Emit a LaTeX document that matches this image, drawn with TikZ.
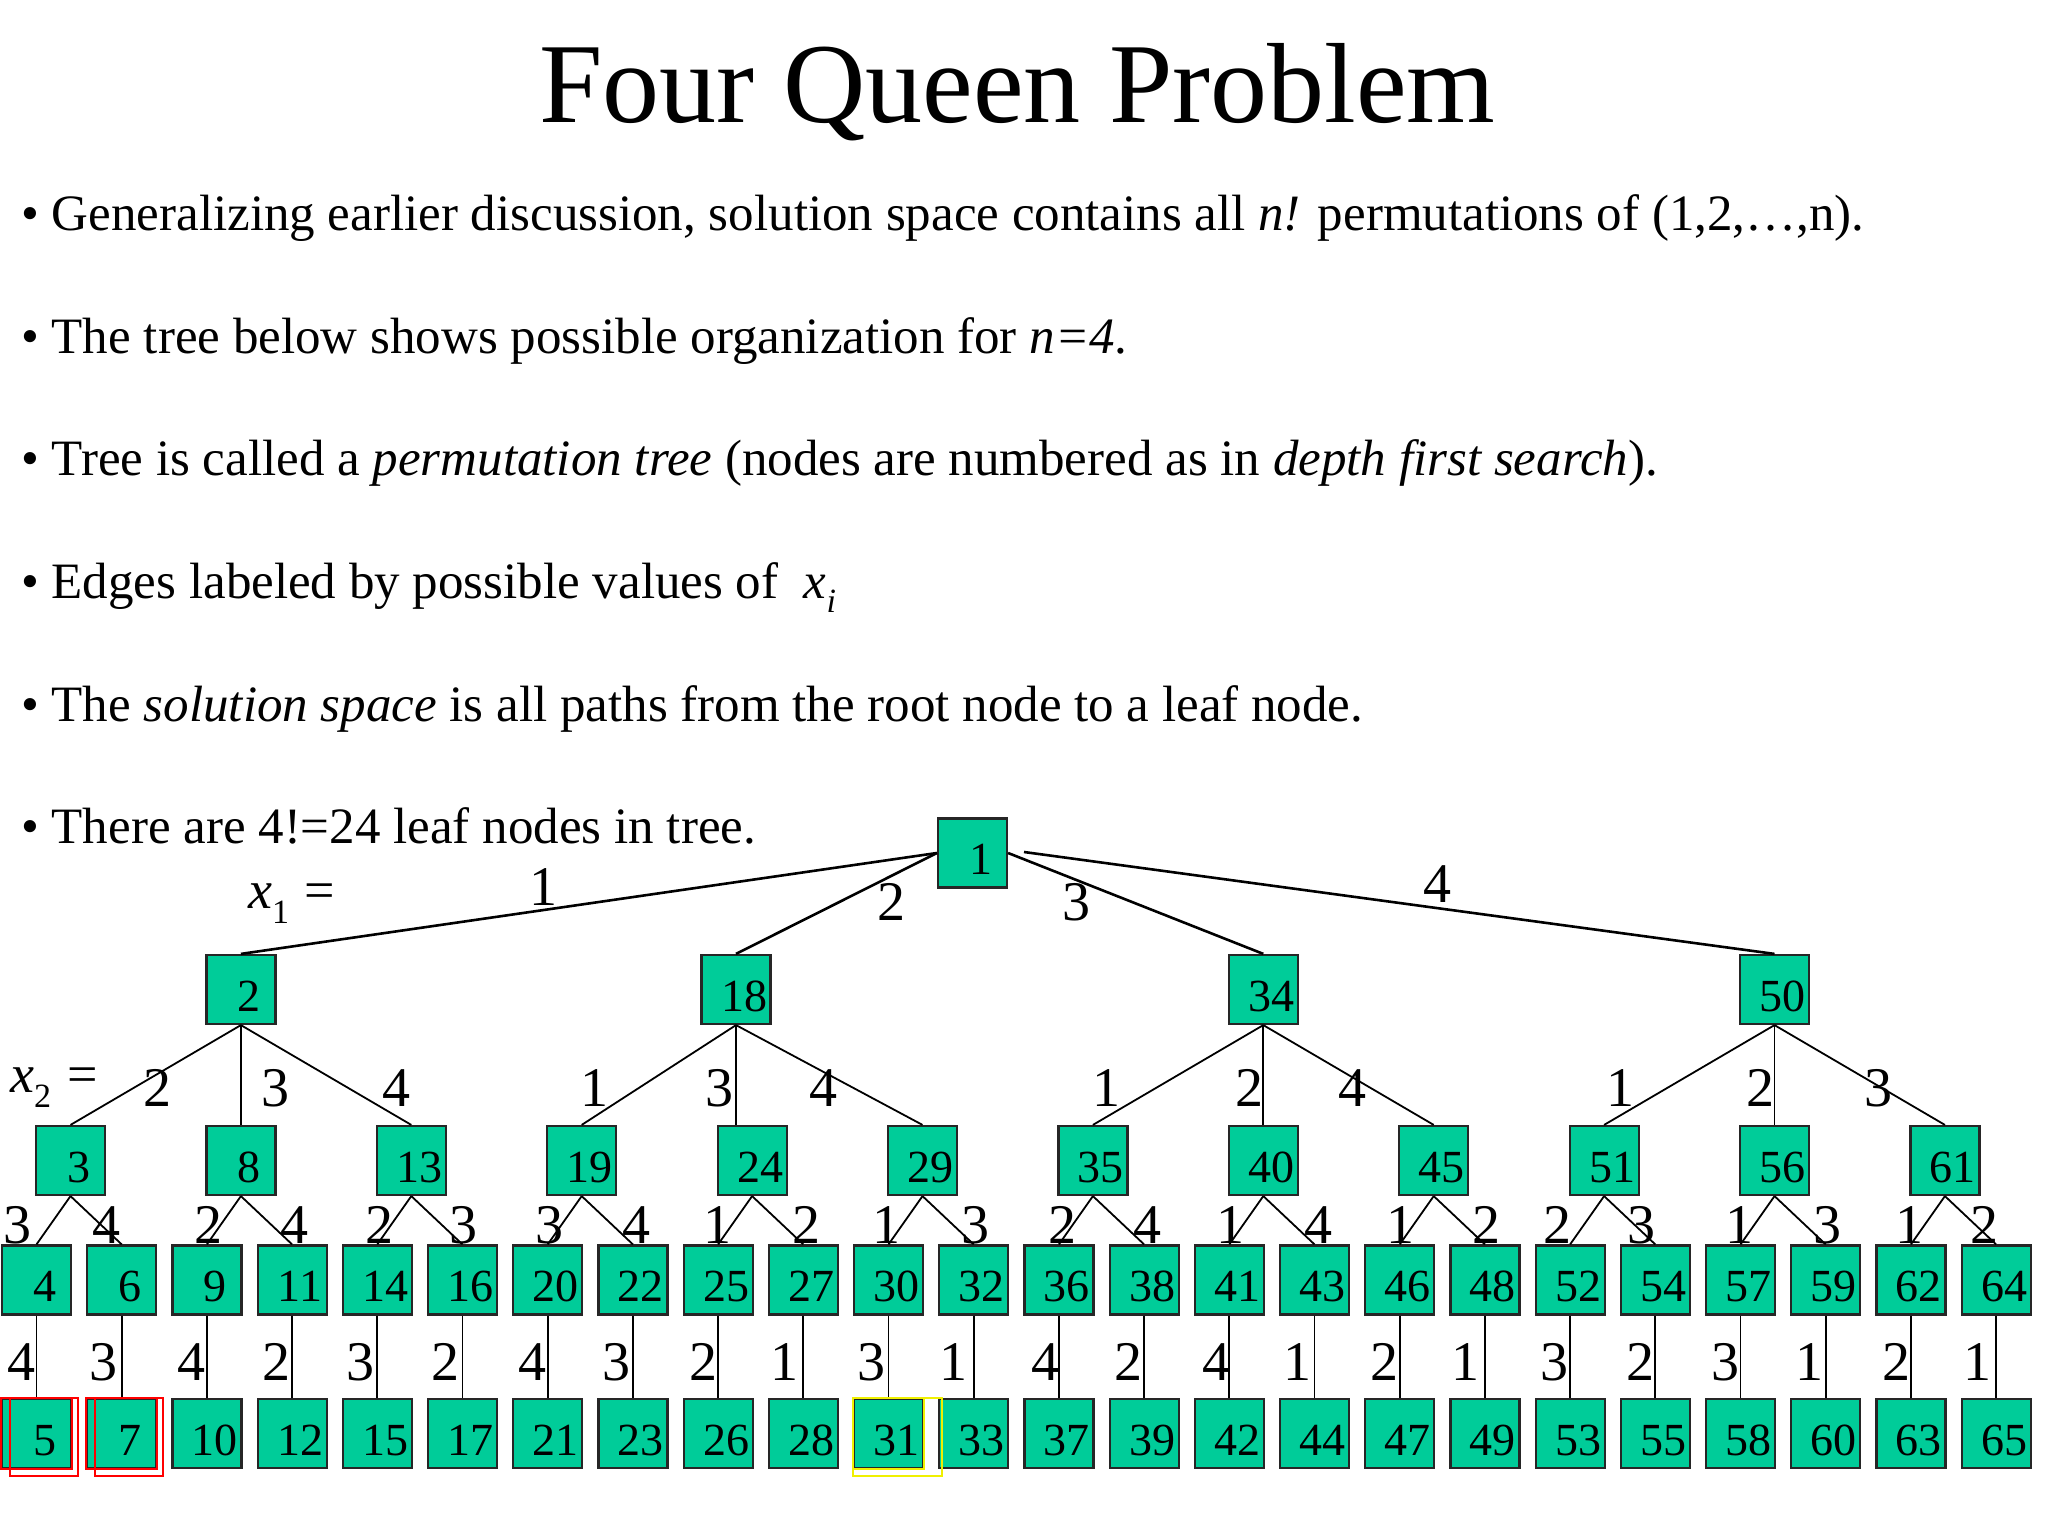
\documentclass[tikz,border=0pt]{standalone}
\usepackage{fontspec}
\setmainfont{Liberation Serif}
\usetikzlibrary{calc}
\definecolor{boxgreen}{RGB}{0,204,153}
\definecolor{hiyellow}{RGB}{240,240,0}
\begin{document}
\begin{tikzpicture}[x=1pt,y=-1pt,
  qbox/.style={draw=black!85, fill=boxgreen, line width=2.2pt, minimum width=69pt, minimum height=69pt,
    inner sep=0pt, text height=43pt, text depth=0pt, font=\fontsize{46}{46}\selectfont},
  rootedge/.style={line width=2.6pt},
  treeedge/.style={line width=1.8pt},
  elab/.style={font=\fontsize{56}{56}\selectfont, inner sep=0pt},
  btxt/.style={anchor=base west, inner sep=0pt, font=\fontsize{51}{51}\selectfont},
  hilite/.style={line width=1.8pt}]
\useasboundingbox (0,0) rectangle (2048,1536);

% title and bullets
\node[anchor=base, inner sep=0pt, font=\fontsize{114}{114}\selectfont] (title) at (1017.5,123) {Four Queen Problem};
\node[btxt] (b1) at (21,230) {• Generalizing earlier discussion, solution space contains all \textit{n!} permutations of (1,2,…,n).};
\node[btxt] (b2) at (21,353) {• The tree below shows possible organization for \textit{n=4}.};
\node[btxt] (b3) at (21,475) {• Tree is called a \textit{permutation tree} (nodes are numbered as in \textit{depth first search}).};
\node[btxt] (b4) at (21,598) {• Edges labeled by possible values of \ \textit{x}\raisebox{-0.28em}{\fontsize{34}{34}\selectfont\textit{i}}};
\node[btxt] (b5) at (21,721) {• The \textit{solution space} is all paths from the root node to a leaf node.};
\node[btxt] (b6) at (21,843) {• There are 4!=24 leaf nodes in tree.};

% row captions
\node[btxt, font=\fontsize{54}{54}\selectfont] (xone) at (248,908) {\textit{x}\raisebox{-0.28em}{\fontsize{34}{34}\selectfont 1}\hspace{0.28em}=};
\node[btxt, font=\fontsize{54}{54}\selectfont] (xtwo) at (10,1092) {\textit{x}\raisebox{-0.28em}{\fontsize{34}{34}\selectfont 2}\hspace{0.3em}=};

% root
\node[qbox] (n1) at (972.5,853) {\hspace*{16pt}1};
% level 1
\foreach \num/\x in {2/240.9, 18/736, 34/1263.3, 50/1774.5}
  \node[qbox] (n\num) at (\x,989.5) {\hspace*{16pt}\num};
% level 2
\foreach \num [count=\j from 0] in {3,8,13,19,24,29,35,40,45,51,56,61} {
  \pgfmathsetmacro\xx{70.5+170.4*\j}
  \node[qbox] (n\num) at (\xx,1160.5) {\hspace*{16pt}\num};
}
% level 3 and leaves
\foreach \a/\b [count=\i from 0] in {4/5,6/7,9/10,11/12,14/15,16/17,20/21,22/23,25/26,27/28,30/31,32/33,36/37,38/39,41/42,43/44,46/47,48/49,52/53,54/55,57/58,59/60,62/63,64/65} {
  \pgfmathsetmacro\xx{36.5+85.2*\i}
  \node[qbox] (n\a) at (\xx,1280) {\hspace*{16pt}\a};
  \node[qbox] (n\b) at (\xx,1433.5) {\hspace*{16pt}\b};
  \draw[treeedge] (n\a.south) -- (n\b.north);
}

% root edges
\coordinate (r4) at (1024,852);
\draw[rootedge] (n1.west) -- (n2.north);
\draw[rootedge] (n1.west) -- (n18.north);
\draw[rootedge] (n1.east) -- (n34.north);
\draw[rootedge] (r4) -- (n50.north);

% level 2 edges
\foreach \p/\l/\m/\r in {2/3/8/13, 18/19/24/29, 34/35/40/45, 50/51/56/61} {
  \draw[treeedge] (n\p.south) -- (n\l.north);
  \draw[treeedge] (n\p.south) -- (n\p.south |- n\m.north);
  \draw[treeedge] (n\p.south) -- (n\r.north);
}
% level 3 edges
\foreach \p/\l/\r in {3/4/6, 8/9/11, 13/14/16, 19/20/22, 24/25/27, 29/30/32, 35/36/38, 40/41/43, 45/46/48, 51/52/54, 56/57/59, 61/62/64} {
  \draw[treeedge] (n\p.south) -- (n\l.north);
  \draw[treeedge] (n\p.south) -- (n\r.north);
}

% edge labels
\node[elab] (la1) at (543,887) {1};
\node[elab] (la2) at (891,902) {2};
\node[elab] (la3) at (1076,902) {3};
\node[elab] (la4) at (1437,884) {4};
\foreach \v/\x [count=\k] in {2/157, 3/275, 4/396, 1/594, 3/719, 4/823, 1/1106, 2/1249, 4/1352, 1/1620, 2/1760, 3/1878}
  \node[elab] (lb\k) at (\x,1088) {\v};
\foreach \v/\x [count=\k] in {3/18, 4/106, 2/208, 4/294, 2/379, 3/463, 3/549, 4/636, 1/717, 2/806, 1/886, 3/975, 2/1062, 4/1147, 1/1230, 4/1318, 1/1400, 2/1486, 2/1557, 3/1641, 1/1739, 3/1827, 1/1909, 2/1984}
  \node[elab] (lc\k) at (\x,1225) {\v};
\foreach \v/\x [count=\k] in {4/21, 3/103, 4/191, 2/276, 3/360, 2/445, 4/532, 3/616, 2/703, 1/784, 3/871, 1/953, 4/1045, 2/1128, 4/1216, 1/1297, 2/1384, 1/1465, 3/1554, 2/1640, 3/1725, 1/1809, 2/1896, 1/1977}
  \node[elab] (ld\k) at (\x,1362) {\v};

% highlights
\draw[hilite, red] (n5.north west) rectangle (n5.south east);
\draw[hilite, red] ($(n5.north west)+(9,0)$) rectangle ($(n5.south east)+(6,7)$);
\draw[hilite, red] (n7.north west) rectangle (n7.south east);
\draw[hilite, red] ($(n7.north west)+(9,0)$) rectangle ($(n7.south east)+(6,7)$);
\draw[hilite, hiyellow] (n31.north west) rectangle (n31.south east);
\draw[hilite, hiyellow] (n31.north west) rectangle ($(n31.south east)+(18,7)$);
\end{tikzpicture}
\end{document}
